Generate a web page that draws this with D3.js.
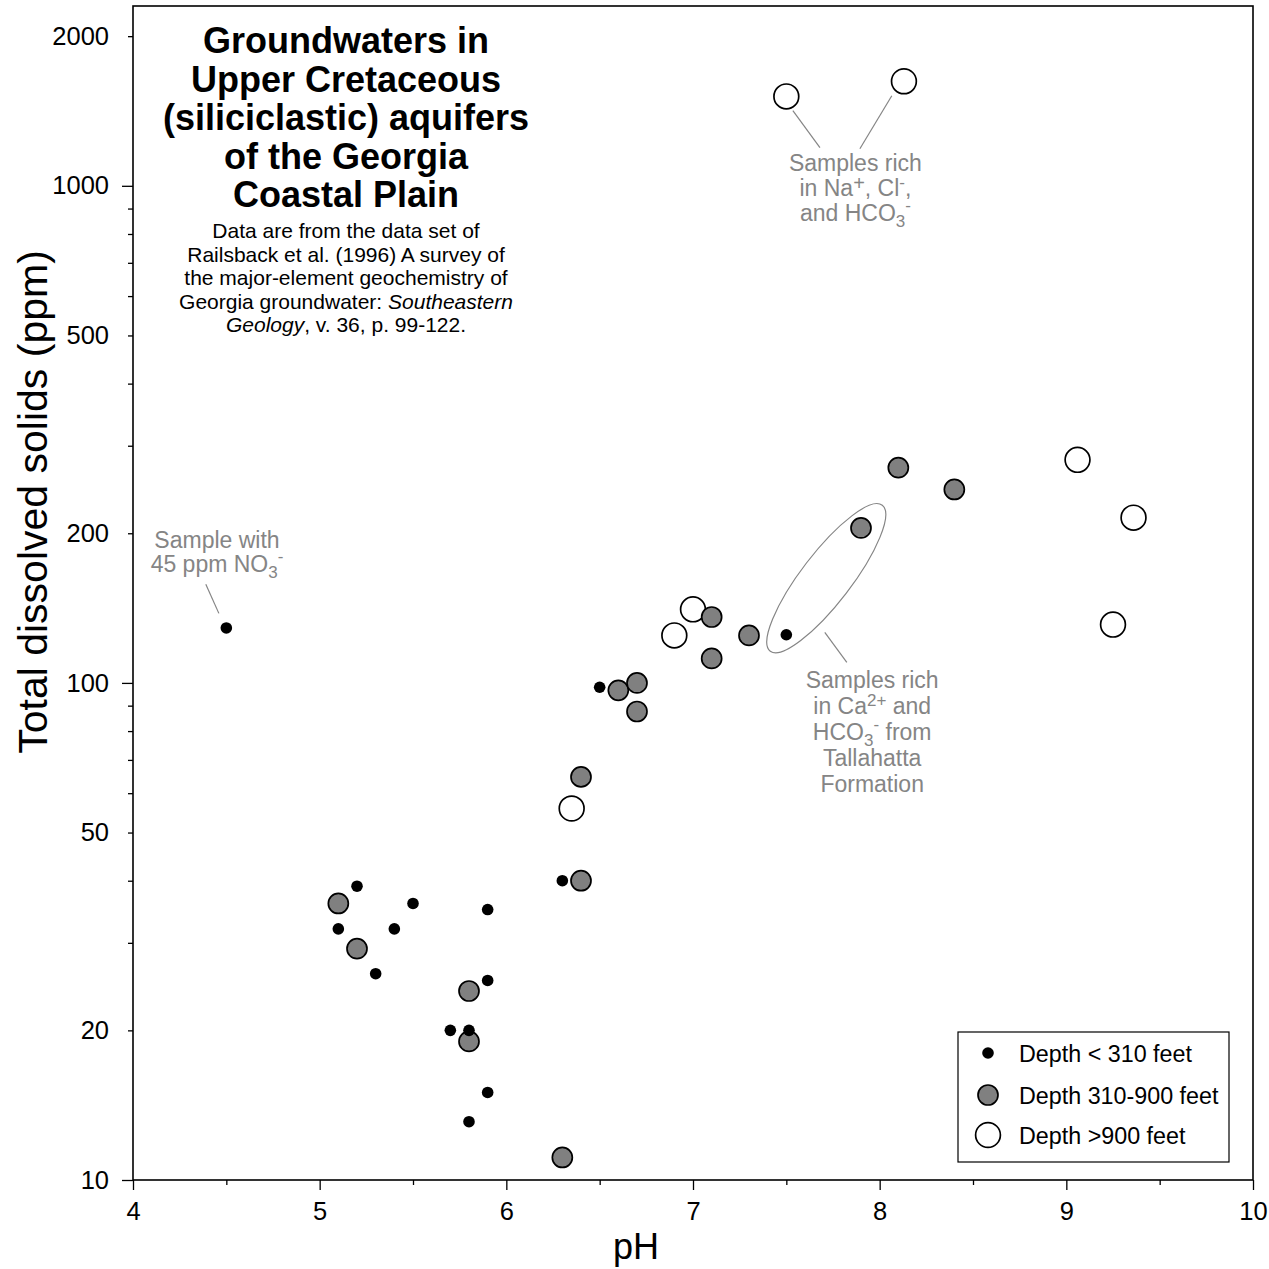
<!DOCTYPE html>
<html>
<head>
<meta charset="utf-8">
<script src="https://cdn.jsdelivr.net/npm/d3@7"></script>
<style>
  body { margin: 0; background: #fff; }
  svg { font-family: "Liberation Sans", Arial, sans-serif; }
</style>
</head>
<body>
<svg width="1269" height="1269"></svg>
<script>
// pH vs total dissolved solids, Upper Cretaceous aquifers

// depth < 310 ft
var shallowPH  = [4.5, 5.2, 5.5, 5.1, 5.4, 5.3, 5.9, 5.9, 5.7, 5.8, 5.9, 5.8, 6.3, 6.5, 7.5];
var shallowTDS = [129, 39, 36, 32, 32, 26, 35, 25.2, 20, 20, 15, 13.1, 40, 98, 125];
// depth 310-900 ft
var midPH  = [5.1, 5.2, 5.8, 5.8, 6.3, 6.4, 6.4, 6.6, 6.7, 6.7, 7.1, 7.1, 7.3, 7.9, 8.1, 8.4];
var midTDS = [36, 29.2, 24, 19, 11.1, 40, 64.7, 96.6, 100, 87.6, 135.7, 112, 124.6, 205, 271, 245];
// depth > 900 ft
var deepPH  = [6.35, 6.9, 7.0, 7.5, 8.13, 9.06, 9.36, 9.25];
var deepTDS = [55.9, 124.6, 140.6, 1513, 1623, 281, 215, 131];

var xTicks = [4, 5, 6, 7, 8, 9, 10];
var xMinor = [4.5, 5.5, 6.5, 7.5, 8.5, 9.5];
var yLabels = [10, 20, 50, 100, 200, 500, 1000, 2000];
var yMajor = [10, 100, 1000];
var yMinor = [20, 30, 40, 50, 60, 70, 80, 90, 200, 300, 400, 500, 600, 700, 800, 900, 2000];

var titleLines = ['Groundwaters in', 'Upper Cretaceous', '(siliciclastic) aquifers', 'of the Georgia', 'Coastal Plain'];
var legendLabels = ['Depth < 310 feet', 'Depth 310-900 feet', 'Depth >900 feet'];

var svg = d3.select('svg');
var plot = { left: 133, right: 1253, top: 6, bottom: 1180 };

var x = d3.scaleLinear().domain([4, 10]).range([plot.left, plot.right]);
var y = d3.scaleLog().domain([10, 2300]).range([plot.bottom, plot.top]);

var styles = {
	shallow: { r: 5.8, fill: '#000', stroke: 'none' },
	mid: { r: 10, fill: '#808080', stroke: '#000' },
	deep: { r: 12.4, fill: '#fff', stroke: '#000' }
};

// axes
svg.append('g').attr('transform', 'translate(0,' + plot.bottom + ')')
	.call(d3.axisBottom(x).tickValues(xTicks).tickSize(10).tickPadding(12).tickFormat(d3.format('d')));
svg.append('g').attr('transform', 'translate(0,' + plot.bottom + ')')
	.call(d3.axisBottom(x).tickValues(xMinor).tickSize(5).tickFormat(''));

svg.append('g').attr('transform', 'translate(' + plot.left + ',0)')
	.call(d3.axisLeft(y).tickValues(yMajor).tickSize(11).tickFormat(''));
svg.append('g').attr('transform', 'translate(' + plot.left + ',0)')
	.call(d3.axisLeft(y).tickValues(yMinor).tickSize(5).tickFormat(''));
svg.append('g').attr('transform', 'translate(' + plot.left + ',0)')
	.call(d3.axisLeft(y).tickValues(yLabels).tickSize(0).tickPadding(24).tickFormat(d3.format('d')));

svg.selectAll('.domain').remove();
svg.selectAll('.tick line').attr('stroke', '#000').attr('stroke-width', 1.3);
svg.selectAll('.tick text').attr('font-size', 25.5).attr('fill', '#000')
	.attr('font-family', '"Liberation Sans", Arial, sans-serif');

// frame
svg.append('rect')
	.attr('x', plot.left).attr('y', plot.top)
	.attr('width', plot.right - plot.left).attr('height', plot.bottom - plot.top)
	.attr('fill', 'none').attr('stroke', '#000').attr('stroke-width', 1.6);

// axis titles
svg.append('text').attr('x', 636).attr('y', 1259).attr('text-anchor', 'middle')
	.attr('font-size', 36).text('pH');
svg.append('text').attr('transform', 'translate(47,502) rotate(-90)').attr('text-anchor', 'middle')
	.attr('font-size', 41).text('Total dissolved solids (ppm)');

// title
svg.append('g').selectAll('text').data(titleLines).enter().append('text')
	.attr('x', 346).attr('y', function(d, i) { return 53 + i * 38.5; })
	.attr('text-anchor', 'middle').attr('font-size', 36).attr('font-weight', 'bold')
	.text(function(d) { return d; });

var sub = svg.append('text').attr('text-anchor', 'middle').attr('font-size', 21);
sub.append('tspan').attr('x', 346).attr('y', 238).text('Data are from the data set of');
sub.append('tspan').attr('x', 346).attr('y', 261.5).text('Railsback et al. (1996) A survey of');
sub.append('tspan').attr('x', 346).attr('y', 285).text('the major-element geochemistry of');
var l4 = sub.append('tspan').attr('x', 346).attr('y', 308.5);
l4.append('tspan').text('Georgia groundwater: ');
l4.append('tspan').attr('font-style', 'italic').text('Southeastern');
var l5 = sub.append('tspan').attr('x', 346).attr('y', 332);
l5.append('tspan').attr('font-style', 'italic').text('Geology');
l5.append('tspan').text(', v. 36, p. 99-122.');

// annotations (grey)
var grey = '#858585';
var ann = svg.append('g').attr('fill', grey).attr('font-size', 23).attr('text-anchor', 'middle');

function leader(p1, p2) {
	svg.append('line')
		.attr('x1', x(p1[0])).attr('y1', y(p1[1]))
		.attr('x2', x(p2[0])).attr('y2', y(p2[1]))
		.attr('stroke', grey).attr('stroke-width', 1.2);
}

// NO3 sample
leader([4.39, 158], [4.46, 138]);
var t = ann.append('text');
t.append('tspan').attr('x', x(4.45)).attr('y', 548).text('Sample with');
var t2 = t.append('tspan').attr('x', x(4.45)).attr('y', 572);
t2.append('tspan').text('45 ppm NO');
t2.append('tspan').attr('font-size', 17).attr('dy', 6).text('3');
t2.append('tspan').attr('font-size', 17).attr('dy', -16).text('-');

// Na, Cl, HCO3 samples
leader([7.535, 1416], [7.68, 1193]);
leader([8.065, 1518], [7.894, 1187]);
var n = ann.append('text');
n.append('tspan').attr('x', x(7.87)).attr('y', 171).text('Samples rich');
var n2 = n.append('tspan').attr('x', x(7.87)).attr('y', 196);
n2.append('tspan').text('in Na');
n2.append('tspan').attr('font-size', 20).attr('dy', -6).text('+');
n2.append('tspan').attr('dy', 6).text(', Cl');
n2.append('tspan').attr('font-size', 17).attr('dy', -8).text('-');
n2.append('tspan').attr('dy', 8).text(',');
var n3 = n.append('tspan').attr('x', x(7.87)).attr('y', 221);
n3.append('tspan').text('and HCO');
n3.append('tspan').attr('font-size', 17).attr('dy', 6).text('3');
n3.append('tspan').attr('font-size', 17).attr('dy', -16).text('-');

// Tallahatta ellipse
svg.append('ellipse')
	.attr('transform', 'translate(' + x(7.714) + ',' + y(162.4) + ') rotate(-52.5)')
	.attr('rx', 92).attr('ry', 25)
	.attr('fill', 'none').attr('stroke', grey).attr('stroke-width', 1.2);
leader([7.706, 126.4], [7.824, 110]);
var c = ann.append('text');
c.append('tspan').attr('x', x(7.96)).attr('y', 688).text('Samples rich');
var c2 = c.append('tspan').attr('x', x(7.96)).attr('y', 714);
c2.append('tspan').text('in Ca');
c2.append('tspan').attr('font-size', 17).attr('dy', -8).text('2+');
c2.append('tspan').attr('dy', 8).text(' and');
var c3 = c.append('tspan').attr('x', x(7.96)).attr('y', 740);
c3.append('tspan').text('HCO');
c3.append('tspan').attr('font-size', 17).attr('dy', 6).text('3');
c3.append('tspan').attr('font-size', 17).attr('dy', -16).text('-');
c3.append('tspan').attr('dy', 10).text(' from');
c.append('tspan').attr('x', x(7.96)).attr('y', 766).text('Tallahatta');
c.append('tspan').attr('x', x(7.96)).attr('y', 792).text('Formation');

// points
function drawSeries(ph, tds, s) {
	svg.append('g').selectAll('circle')
		.data(ph.map(function(d, i) { return { ph: d, tds: tds[i] }; }))
		.enter()
		.append('circle')
		.attr('cx', function(d) { return x(d.ph); })
		.attr('cy', function(d) { return y(d.tds); })
		.attr('r', s.r)
		.attr('fill', s.fill)
		.attr('stroke', s.stroke)
		.attr('stroke-width', 1.7);
}
drawSeries(deepPH, deepTDS, styles.deep);
drawSeries(midPH, midTDS, styles.mid);
drawSeries(shallowPH, shallowTDS, styles.shallow);

// legend
var lg = svg.append('g');
lg.append('rect').attr('x', 958).attr('y', 1032).attr('width', 271).attr('height', 130)
	.attr('fill', '#fff').attr('stroke', '#000').attr('stroke-width', 1.2);
var keys = [styles.shallow, styles.mid, styles.deep];
var item = lg.selectAll('.item').data(legendLabels).enter().append('g')
	.attr('transform', function(d, i) { return 'translate(988,' + [1053, 1095, 1135][i] + ')'; });
item.append('circle')
	.attr('r', function(d, i) { return keys[i].r; })
	.attr('fill', function(d, i) { return keys[i].fill; })
	.attr('stroke', function(d, i) { return keys[i].stroke; })
	.attr('stroke-width', 1.7);
item.append('text').attr('x', 31).attr('y', 8.5).attr('font-size', 23.3)
	.text(function(d) { return d; });
</script>
</body>
</html>
